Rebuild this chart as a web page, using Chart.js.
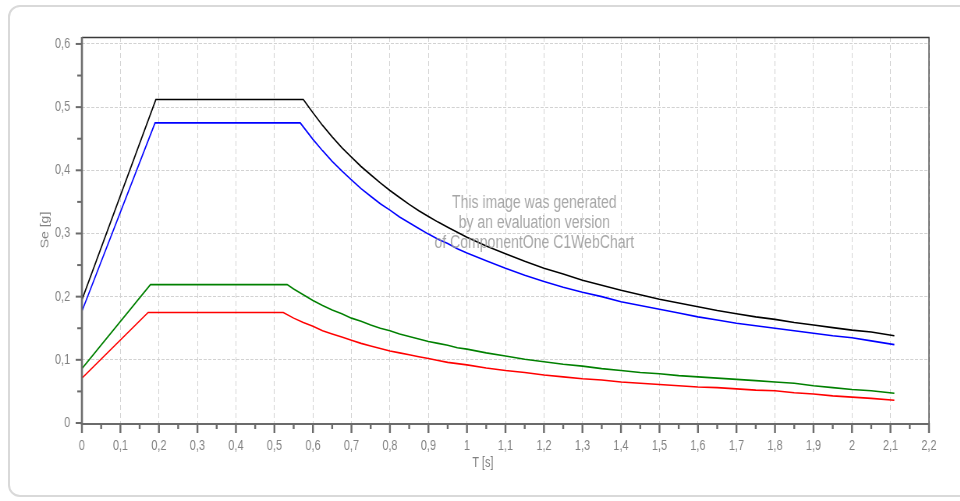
<!DOCTYPE html>
<html>
<head>
<meta charset="utf-8">
<script src="https://cdn.jsdelivr.net/npm/chart.js@4.4.1/dist/chart.umd.min.js"></script>
<style>
  html, body { margin: 0; padding: 0; background: #ffffff; width: 960px; height: 501px; overflow: hidden; }
  #panel { position: absolute; left: 8px; top: 5px; width: 1010px; height: 492px; box-sizing: border-box;
           border: 2px solid #d9d9d9; border-radius: 12px; }
  #wrap { position: absolute; left: 0; top: 0; width: 1231px; height: 501px;
          transform: scaleX(0.78); transform-origin: 0 0; }
</style>
</head>
<body>
<div id="panel"></div>
<div id="wrap"><canvas id="c" width="1231" height="501"></canvas></div>
<script>
// ---------- data (period T in s, spectral acceleration Se in g) ----------
const tailPeriods = [0.6, 0.625, 0.65, 0.675, 0.7, 0.725, 0.75, 0.775, 0.8, 0.825, 0.85, 0.875, 0.9, 0.925,
                     0.95, 0.975, 1, 1.05, 1.1, 1.15, 1.2, 1.25, 1.3, 1.35, 1.4, 1.45, 1.5, 1.55, 1.6, 1.65,
                     1.7, 1.75, 1.8, 1.85, 1.9, 1.95, 2, 2.05, 2.11];

const blackHeadT  = [0, 0.192, 0.575];
const blackHeadSe = [0.195, 0.512, 0.512];
const blackTailSe = [0.491, 0.471, 0.453, 0.436, 0.421, 0.406, 0.393, 0.380, 0.368, 0.357, 0.346, 0.336,
                     0.327, 0.318, 0.310, 0.302, 0.294, 0.280, 0.268, 0.256, 0.245, 0.236, 0.226, 0.218,
                     0.210, 0.203, 0.196, 0.190, 0.184, 0.178, 0.173, 0.168, 0.164, 0.159, 0.155, 0.151,
                     0.147, 0.144, 0.138];

const blueHeadT  = [0, 0.19, 0.567];
const blueHeadSe = [0.177, 0.475, 0.475];
const blueTailSe = [0.449, 0.431, 0.414, 0.399, 0.385, 0.371, 0.359, 0.347, 0.337, 0.326, 0.317, 0.308,
                    0.299, 0.291, 0.284, 0.276, 0.269, 0.257, 0.245, 0.234, 0.224, 0.215, 0.207, 0.200,
                    0.192, 0.186, 0.180, 0.174, 0.168, 0.163, 0.158, 0.154, 0.150, 0.146, 0.142, 0.138,
                    0.135, 0.130, 0.124];

const greenHeadT  = [0, 0.178, 0.533, 0.55, 0.575];
const greenHeadSe = [0.086, 0.219, 0.219, 0.212, 0.203];
const greenTailSe = [0.194, 0.186, 0.179, 0.173, 0.166, 0.161, 0.155, 0.150, 0.146, 0.141, 0.137, 0.133,
                     0.129, 0.126, 0.123, 0.119, 0.117, 0.111, 0.106, 0.101, 0.097, 0.093, 0.090, 0.086,
                     0.083, 0.080, 0.078, 0.075, 0.073, 0.071, 0.069, 0.067, 0.065, 0.063, 0.059, 0.056,
                     0.053, 0.051, 0.047];

const redHeadT  = [0, 0.172, 0.523, 0.55, 0.575];
const redHeadSe = [0.071, 0.175, 0.175, 0.166, 0.159];
const redTailSe = [0.153, 0.146, 0.141, 0.136, 0.131, 0.126, 0.122, 0.118, 0.114, 0.111, 0.108, 0.105,
                   0.102, 0.099, 0.096, 0.094, 0.092, 0.087, 0.083, 0.080, 0.076, 0.073, 0.070, 0.068,
                   0.065, 0.063, 0.061, 0.059, 0.057, 0.056, 0.054, 0.052, 0.051, 0.048, 0.046, 0.043,
                   0.041, 0.039, 0.036];

// axes
const xMin = 0, xMax = 2.2, xStep = 0.1;
const yMin = 0, yMax = 0.611, yStep = 0.1;
const xTitle = 'T [s]';
const yTitle = 'Se [g]';
const watermarkLines = ['This image was generated', 'by an evaluation version', 'of ComponentOne C1WebChart'];

// ---------- build ----------
function toPoints(ts, ss) { return ts.map((t, i) => ({ x: t, y: ss[i] })); }
const fmt = v => String(Math.round(v * 10) / 10).replace('.', ',');
const FONT = '"Liberation Sans", Arial, sans-serif';
const LABEL = '#828282';

const framePlugin = {
  id: 'framePlugin',
  afterDraw(chart) {
    const { ctx, chartArea: a, scales: { x, y } } = chart;
    ctx.save();
    // top and right frame
    ctx.strokeStyle = '#3a3a3a';
    ctx.lineWidth = 1.3;
    ctx.beginPath();
    ctx.moveTo(a.left, a.top + 0.5);
    ctx.lineTo(a.right, a.top + 0.5);
    ctx.lineTo(a.right, a.bottom);
    ctx.stroke();
    // axis lines
    ctx.strokeStyle = '#6b6b6b';
    ctx.lineWidth = 2;
    ctx.beginPath();
    ctx.moveTo(a.left - 1, a.bottom + 1);
    ctx.lineTo(a.right + 1, a.bottom + 1);
    ctx.stroke();
    ctx.lineWidth = 2.6;
    ctx.beginPath();
    ctx.moveTo(a.left, a.top);
    ctx.lineTo(a.left, a.bottom + 2);
    ctx.stroke();
    // x ticks (major + minor halfway)
    ctx.lineWidth = 2.4;
    const xt = x.ticks.map(t => t.value);
    xt.forEach((v, i) => {
      const px = x.getPixelForValue(v);
      ctx.beginPath(); ctx.moveTo(px, a.bottom); ctx.lineTo(px, a.bottom + 10); ctx.stroke();
      if (i < xt.length - 1) {
        const pm = x.getPixelForValue((v + xt[i + 1]) / 2);
        ctx.beginPath(); ctx.moveTo(pm, a.bottom); ctx.lineTo(pm, a.bottom + 6); ctx.stroke();
      }
    });
    // y ticks
    ctx.lineWidth = 2;
    const yt = y.ticks.map(t => t.value);
    yt.forEach((v, i) => {
      const py = y.getPixelForValue(v);
      ctx.beginPath(); ctx.moveTo(a.left - 8, py); ctx.lineTo(a.left, py); ctx.stroke();
      if (i < yt.length - 1) {
        const pm = y.getPixelForValue((v + yt[i + 1]) / 2);
        ctx.beginPath(); ctx.moveTo(a.left - 6, pm); ctx.lineTo(a.left, pm); ctx.stroke();
      }
    });
    // axis titles
    ctx.fillStyle = LABEL;
    ctx.font = '14px ' + FONT;
    ctx.textAlign = 'center';
    ctx.textBaseline = 'middle';
    ctx.fillText(xTitle, 619, 463);
    ctx.save();
    ctx.translate(58, (a.top + a.bottom) / 2);
    ctx.rotate(-Math.PI / 2);
    ctx.fillText(yTitle, 0, 0);
    ctx.restore();
    // evaluation watermark
    ctx.fillStyle = 'rgba(150,150,150,0.85)';
    ctx.font = '18px ' + FONT;
    watermarkLines.forEach((s, i) => ctx.fillText(s, 685, 203 + i * 20));
    ctx.restore();
  }
};

const lineDs = (data, color) => ({
  data, borderColor: color, backgroundColor: color, borderWidth: 1.6,
  pointRadius: 0, tension: 0, fill: false
});

new Chart(document.getElementById('c'), {
  type: 'line',
  data: {
    datasets: [
      lineDs(toPoints(blackHeadT.concat(tailPeriods), blackHeadSe.concat(blackTailSe)), '#000000'),
      lineDs(toPoints(blueHeadT.concat(tailPeriods), blueHeadSe.concat(blueTailSe)), '#0000ff'),
      lineDs(toPoints(greenHeadT.concat(tailPeriods), greenHeadSe.concat(greenTailSe)), '#008000'),
      lineDs(toPoints(redHeadT.concat(tailPeriods), redHeadSe.concat(redTailSe)), '#ff0000')
    ]
  },
  options: {
    responsive: false,
    animation: false,
    events: [],
    layout: { padding: { top: 37, right: 40, bottom: 0, left: 0 } },
    plugins: { legend: { display: false }, tooltip: { enabled: false } },
    scales: {
      x: {
        type: 'linear', min: xMin, max: xMax,
        afterFit: s => { s.height = 78; },
        ticks: { stepSize: xStep, includeBounds: false, autoSkip: false, maxRotation: 0,
                 padding: 15, color: LABEL, font: { family: FONT, size: 14 }, callback: fmt },
        grid: { color: '#d2d2d2', lineWidth: 1, drawTicks: false },
        border: { display: false, dash: [5, 3] }
      },
      y: {
        type: 'linear', min: yMin, max: yMax,
        afterFit: s => { s.width = 105; },
        ticks: { stepSize: yStep, includeBounds: false, padding: 15, color: LABEL,
                 font: { family: FONT, size: 14 }, callback: fmt },
        grid: { color: '#d2d2d2', lineWidth: 1, drawTicks: false },
        border: { display: false, dash: [4, 2] }
      }
    }
  },
  plugins: [framePlugin]
});
</script>
</body>
</html>
